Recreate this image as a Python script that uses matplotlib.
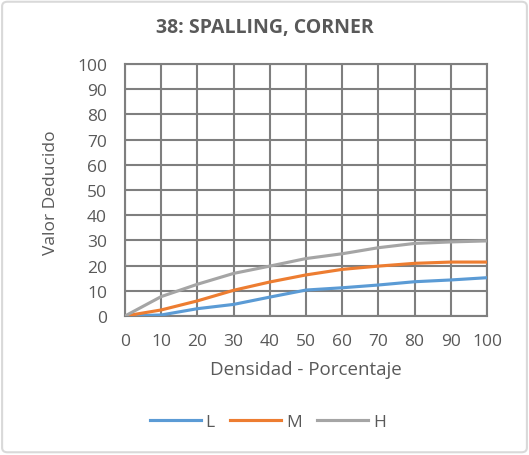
import matplotlib
matplotlib.use('Agg')
from matplotlib import pyplot as plt
from matplotlib.patches import FancyBboxPatch

# Data
densidad = [0, 10, 20, 30, 40, 50, 60, 70, 80, 90, 100]
L = [0, 0.4, 2.9, 4.6, 7.5, 10.3, 11.2, 12.3, 13.6, 14.3, 15.2]
M = [0, 2.4, 6.0, 10.2, 13.5, 16.3, 18.5, 19.8, 20.9, 21.4, 21.4]
H = [0, 7.7, 12.6, 16.9, 19.8, 22.8, 24.7, 27.1, 28.8, 29.4, 29.8]

plt.rcParams['font.family'] = ['Open Sans', 'DejaVu Sans']
txt = '#595959'

fig = plt.figure(figsize=(5.29, 4.56), dpi=100)
ax = fig.add_axes([125 / 529, 1 - 317 / 456, 362 / 529, 252 / 456])

# outer chart border
fig.patches.append(FancyBboxPatch((0.004, 0.006), 0.992, 0.988, boxstyle='round,pad=0,rounding_size=0.01',
                                  transform=fig.transFigure, fill=False, edgecolor='#d9d9d9', linewidth=1.5))

ax.plot(densidad, L, color='#5B9BD5', linewidth=2.25, label='L', zorder=3)
ax.plot(densidad, M, color='#ED7D31', linewidth=2.25, label='M', zorder=3)
ax.plot(densidad, H, color='#A5A5A5', linewidth=2.25, label='H', zorder=3)

ax.set_xlim(0, 100)
ax.set_ylim(0, 100)
ax.set_xticks(range(0, 101, 10))
ax.set_yticks(range(0, 101, 10))
ax.grid(True, color='#7f7f7f', linewidth=1.5)
for s in ax.spines.values():
    s.set_color('#7f7f7f')
    s.set_linewidth(1.5)
ax.tick_params(length=0, labelsize=12.5, labelcolor=txt)
ax.tick_params(axis='y', pad=13)
ax.tick_params(axis='x', pad=12)

fig.text(265 / 529, 1 - 28 / 456, '38: SPALLING, CORNER', fontsize=14, fontweight='bold',
         color=txt, ha='center', va='center')
fig.text(306 / 529, 1 - 370 / 456, 'Densidad - Porcentaje', fontsize=13.5, color=txt,
         ha='center', va='center')
fig.text(51 / 529, 1 - 193 / 456, 'Valor Deducido', fontsize=12.5, color=txt,
         rotation=90, ha='center', va='center')

leg = fig.legend(loc='center', bbox_to_anchor=(268 / 529, 1 - 423 / 456), ncol=3, frameon=False,
                 fontsize=12.5, handlelength=2.9, columnspacing=0.9, handletextpad=0.3)
for t in leg.get_texts():
    t.set_color(txt)

fig.savefig('out.png', dpi=100)
